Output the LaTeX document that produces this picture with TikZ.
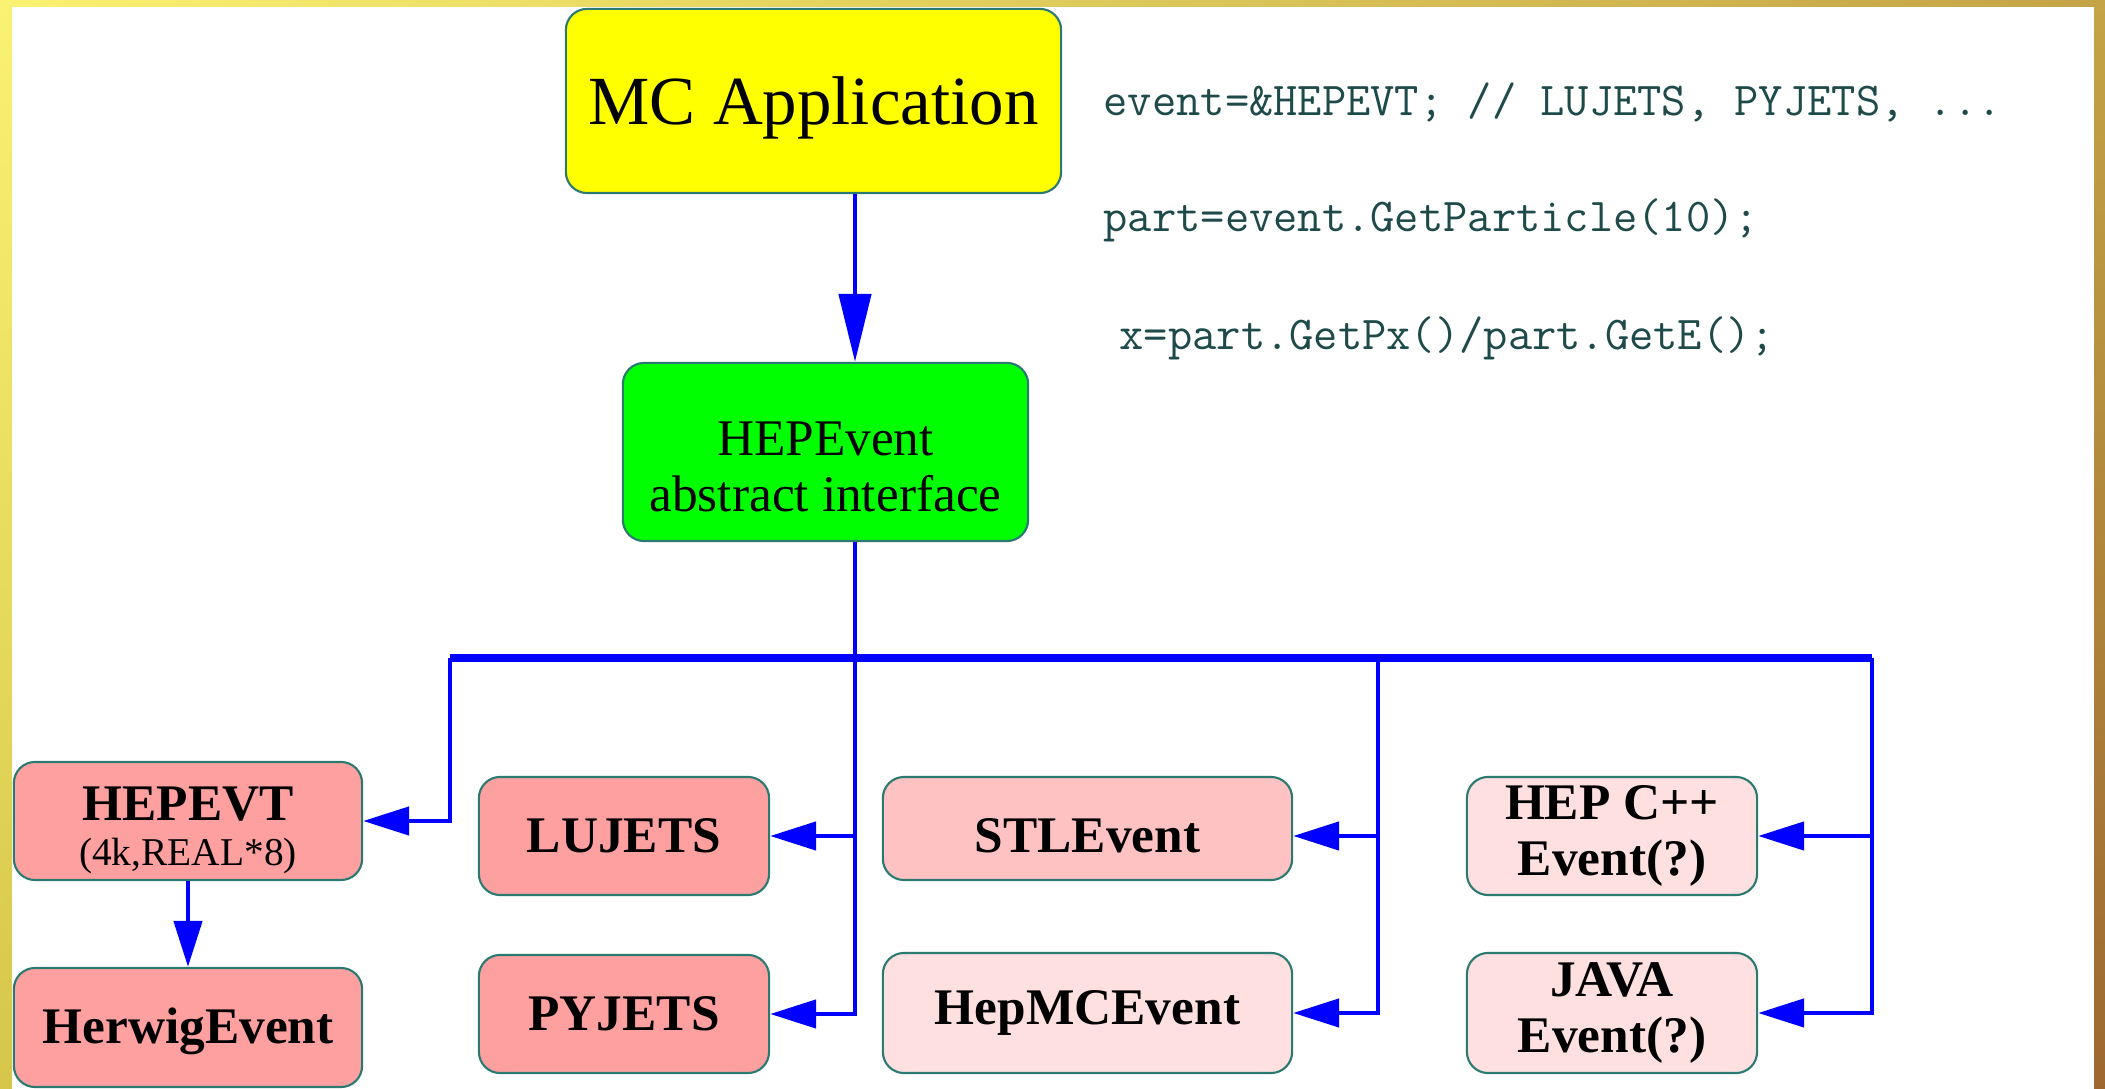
\documentclass[tikz,border=0pt]{standalone}
\usepackage{fontspec}
\setmainfont{Liberation Serif}
\usetikzlibrary{positioning, arrows.meta, shadings}
\definecolor{cYellow}{HTML}{FFFF00}
\definecolor{cGreen}{HTML}{00FF00}
\definecolor{cPinkA}{HTML}{FFA0A0}
\definecolor{cPinkB}{HTML}{FFC2C2}
\definecolor{cPinkC}{HTML}{FFE0E0}
\definecolor{cEdge}{HTML}{2A7A72}
\definecolor{cWire}{HTML}{0000FF}
\definecolor{cCode}{HTML}{1E4A4A}
\definecolor{cFrameTL}{HTML}{FAF272}
\definecolor{cFrameTR}{HTML}{C4A446}
\definecolor{cFrameBL}{HTML}{D6C64A}
\definecolor{cFrameBR}{HTML}{9C6830}
% lower a label without changing its box
\newcommand{\lowered}[2]{\raisebox{-#1}[\height][\depth]{#2}}

\begin{document}
\begin{tikzpicture}[
  x=0.01cm, y=-0.01cm,
  evbox/.style={
    draw=cEdge, line width=0.6pt, fill=#1, rounded corners=6pt,
    inner sep=2pt, align=center, text=black
  },
  evlabel/.style={font=\fontsize{14.6}{15.7}\selectfont\bfseries},
  wire/.style={draw=cWire, line width=1.3pt},
  flow/.style={wire, -{Triangle[length=0.46cm, width=0.28cm]}},
  codeline/.style={
    font=\fontsize{13.4}{15}\selectfont\ttfamily, text=cCode,
    anchor=west, inner sep=0pt
  },
]

% frame
\shade[upper left=cFrameTL, upper right=cFrameTR,
       lower left=cFrameBL, lower right=cFrameBR] (0,0) rectangle (2105,1089);
\fill[white] (12,7) rectangle (2094,1089);
\useasboundingbox (0,0) rectangle (2105,1089);

% application and interface
\node[evbox=cYellow, minimum width=4.95cm, minimum height=1.84cm,
      font=\fontsize{19.6}{22}\selectfont] (mc) at (813.5,101)
  {\lowered{2pt}{MC Application}};
\node[evbox=cGreen, minimum width=4.05cm, minimum height=1.78cm,
      font=\fontsize{14.6}{16}\selectfont] (hepevent) at (825.5,452)
  {\lowered{4.2pt}{HEPEvent}\\\lowered{4.2pt}{abstract interface}};

% code sample
\node[codeline] (code1) at (1103,102) {event=\&HEPEVT; // LUJETS, PYJETS, ...};
\node[codeline] (code2) at (1103,220) {part=event.GetParticle(10);};
\node[codeline] (code3) at (1119,338) {x=part.GetPx()/part.GetE();};

% implementations
\node[evbox=cPinkA, evlabel, minimum width=3.48cm, minimum height=1.18cm]
  (hepevt) at (188,821)
  {\lowered{2.6pt}{HEPEVT}\\[-3pt]%
   \lowered{2.6pt}{\mdseries\fontsize{11.2}{12}\selectfont(4k,REAL*8)}};
\node[evbox=cPinkA, evlabel, minimum width=3.48cm, minimum height=1.19cm]
  (herwig) at (188,1027.5) {\lowered{1pt}{HerwigEvent}};
\node[evbox=cPinkA, evlabel, minimum width=2.9cm, minimum height=1.18cm]
  (lujets) at (624,836) {LUJETS};
\node[evbox=cPinkA, evlabel, minimum width=2.9cm, minimum height=1.18cm]
  (pyjets) at (624,1014) {PYJETS};
\node[evbox=cPinkB, evlabel, minimum width=4.09cm, minimum height=1.03cm]
  (stlevent) at (1087.5,828.5) {\lowered{2pt}{STLEvent}};
\node[evbox=cPinkC, evlabel, minimum width=4.09cm, minimum height=1.2cm]
  (hepmc) at (1087.5,1013) {HepMCEvent};
\node[evbox=cPinkC, evlabel, minimum width=2.9cm, minimum height=1.18cm]
  (hepcpp) at (1612,836) {HEP C++\\Event(?)};
\node[evbox=cPinkC, evlabel, minimum width=2.9cm, minimum height=1.2cm]
  (java) at (1612,1013) {JAVA\\Event(?)};

% bus
\coordinate (trunk) at (855,658);
\coordinate (busL) at (450,658);
\coordinate (busM) at (1378,658);
\coordinate (busR) at (1872,658);

\draw[wire, -{Triangle[length=0.68cm, width=0.32cm]}]
  (mc.south -| trunk) -- (hepevent.north -| trunk);
\draw[wire, line width=2pt] (busL) -- (busR);
\draw[flow] (hepevent.south -| trunk) |- (pyjets.east);
\draw[flow] (trunk |- lujets.east) -- (lujets.east);
\draw[flow] (busL) |- (hepevt.east);
\draw[flow] (hepevt.south) -- (herwig.north);
\draw[flow] (busM) |- (hepmc.east);
\draw[flow] (busM |- lujets.east) -- (stlevent.east |- lujets.east);
\draw[flow] (busR) |- (java.east);
\draw[flow] (busR |- hepcpp.east) -- (hepcpp.east);

\end{tikzpicture}
\end{document}
